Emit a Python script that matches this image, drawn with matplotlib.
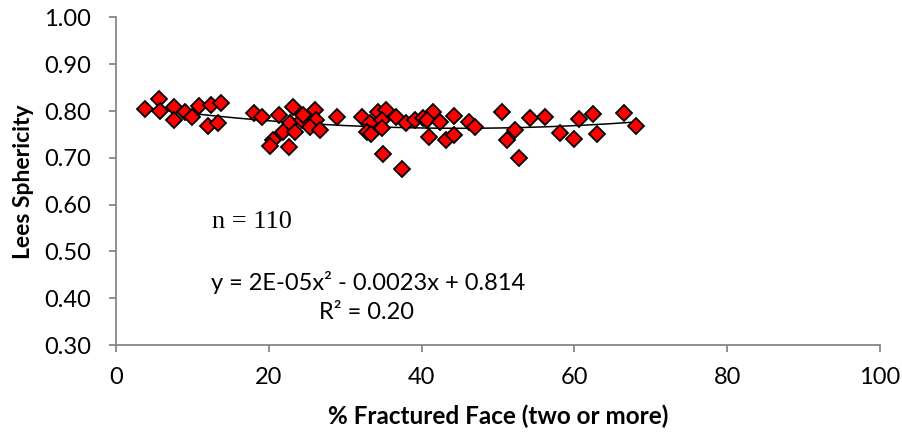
import numpy as np
import matplotlib
matplotlib.use("Agg")
import matplotlib.pyplot as plt

# Data
fractured_face = [3.8, 5.6, 5.8, 7.6, 7.6, 9.0, 10.0, 10.8, 12.0, 13.4, 12.5, 13.8,
                  18.0, 19.1, 21.4, 23.2, 22.8, 24.3, 24.5, 26.0, 26.2, 28.9, 20.6, 20.2,
                  22.6, 21.9, 23.4, 25.4, 26.7,
                  32.2, 34.3, 35.4, 33.2, 32.8, 33.4, 36.7, 38.0, 35.0, 37.5, 34.8, 34.8,
                  39.1, 40.2,
                  41.5, 40.7, 42.4, 44.2, 41.0, 43.2, 44.2, 46.2, 47.0,
                  50.5, 51.2, 52.2, 52.7, 54.2, 56.2, 58.1, 60.0, 60.6, 62.4, 62.9, 66.5, 68.0]
sphericity = [0.804, 0.825, 0.801, 0.809, 0.780, 0.799, 0.788, 0.811, 0.768, 0.774, 0.813, 0.818,
              0.795, 0.788, 0.792, 0.809, 0.774, 0.781, 0.792, 0.802, 0.781, 0.788, 0.738, 0.726,
              0.724, 0.756, 0.756, 0.767, 0.760,
              0.788, 0.799, 0.802, 0.774, 0.756, 0.750, 0.788, 0.774, 0.708, 0.676, 0.781, 0.763,
              0.781, 0.785,
              0.799, 0.781, 0.777, 0.790, 0.745, 0.738, 0.749, 0.776, 0.767,
              0.799, 0.738, 0.760, 0.699, 0.785, 0.788, 0.754, 0.740, 0.782, 0.793, 0.751, 0.795, 0.768]

x_ticks = [0, 20, 40, 60, 80, 100]
y_ticks = [0.30, 0.40, 0.50, 0.60, 0.70, 0.80, 0.90, 1.00]

sans = ['Lato', 'DejaVu Sans']
serif = ['Liberation Serif', 'DejaVu Serif']

fig = plt.figure(figsize=(9.03, 4.36), dpi=100)
ax = fig.add_axes([116/903, 1 - 345/436, (880 - 116)/903, (345 - 17.5)/436])

x = np.array(fractured_face)
y = np.array(sphericity)
coef = np.polyfit(x, y, 2)
xs = np.linspace(x.min(), x.max(), 200)
ax.plot(xs, np.polyval(coef, xs), color='black', lw=1.1, zorder=2)
ax.plot(x, y, linestyle='none', marker='D', markersize=8.5, markerfacecolor='#FF0000',
        markeredgecolor='black', markeredgewidth=1.3, zorder=3)

ax.set_xlim(0, 100)
ax.set_ylim(0.30, 1.00)
ax.set_xticks(x_ticks)
ax.set_yticks(y_ticks)
ax.set_xticklabels([str(t) for t in x_ticks], family=sans, fontsize=17)
ax.set_yticklabels([f"{t:.2f}" for t in y_ticks], family=sans, fontsize=17)

axis_color = '#868686'
for s in ['top', 'right']:
    ax.spines[s].set_visible(False)
for s in ['left', 'bottom']:
    ax.spines[s].set_color(axis_color)
    ax.spines[s].set_linewidth(1.3)
ax.tick_params(axis='both', direction='out', length=5, width=1.3, color=axis_color,
               labelcolor='black')
ax.tick_params(axis='y', pad=13)
ax.tick_params(axis='x', pad=11)

ax.set_xlabel('% Fractured Face (two or more)', family=sans, fontsize=17.5,
              fontweight='bold', labelpad=12)
ax.set_ylabel('Lees Sphericity', family=sans, fontsize=16.5, fontweight='bold', labelpad=7)

fig.text(212/903, 1 - 222/436, 'n = 110', family=serif, fontsize=19, va='center', ha='left')
fig.text(368/903, 1 - 282/436, 'y = 2E-05x² - 0.0023x + 0.814', family=sans, fontsize=17,
         va='center', ha='center')
fig.text(367/903, 1 - 312/436, 'R² = 0.20', family=sans, fontsize=17, va='center', ha='center')

fig.savefig('out.png', dpi=100)
